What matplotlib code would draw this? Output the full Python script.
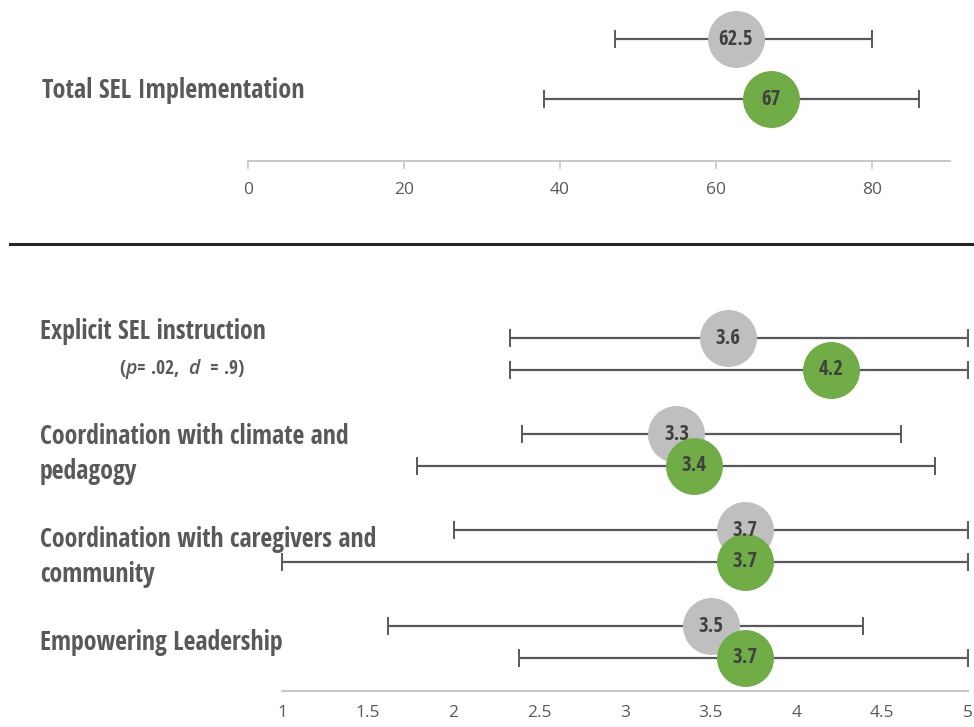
import matplotlib
matplotlib.use("Agg")
import matplotlib.pyplot as plt

# ---- data ----
total_label = "Total SEL Implementation"
total_means = [62.5, 67]          # comparison (gray), intervention (green)
total_low = [47, 38]
total_high = [80, 86]
total_ticks = [0, 20, 40, 60, 80]

domains = [
    "Explicit SEL instruction",
    "Coordination with climate and\npedagogy",
    "Coordination with caregivers and\ncommunity",
    "Empowering Leadership",
]
gray_means = [3.6, 3.3, 3.7, 3.5]
gray_low = [2.33, 2.40, 2.0, 1.62]
gray_high = [5.0, 4.61, 5.0, 4.39]
green_means = [4.2, 3.4, 3.7, 3.7]
green_low = [2.33, 1.79, 1.0, 2.38]
green_high = [5.0, 4.81, 5.0, 5.0]
domain_ticks = [1, 1.5, 2, 2.5, 3, 3.5, 4, 4.5, 5]
domain_tick_labels = ["1", "1.5", "2", "2.5", "3", "3.5", "4", "4.5", "5"]

GRAY = "#BFBFBF"
GREEN = "#70AD47"
BAR = "#595959"
LABEL = "#595959"
VALUE = "#404040"
COND = "Open Sans Condensed"
TICKFONT = "Open Sans"

plt.rcParams["mathtext.fontset"] = "custom"
plt.rcParams["mathtext.it"] = "Open Sans:italic:semibold"
plt.rcParams["mathtext.rm"] = "Open Sans Condensed:bold"

W, H = 974, 727
fig = plt.figure(figsize=(W / 100, H / 100), dpi=100)


def px_axes(x0, y0, x1, y1):
    return fig.add_axes([x0 / W, 1 - y1 / H, (x1 - x0) / W, (y1 - y0) / H])


def style_axis(ax, ticks, labels, tick_len, pad):
    for s in ("top", "left", "right"):
        ax.spines[s].set_visible(False)
    ax.spines["bottom"].set_color("#C8C8C8")
    ax.spines["bottom"].set_linewidth(1.5)
    ax.set_yticks([])
    ax.set_xticks(ticks)
    ax.set_xticklabels(labels, fontsize=12.5, color="#595959", family=TICKFONT)
    ax.tick_params(axis="x", length=tick_len, width=1.2, color="#C8C8C8", pad=pad)
    ax.patch.set_alpha(0)


def draw_pair(ax, y, mean, lo, hi, color):
    ax.errorbar([mean], [y], xerr=[[mean - lo], [hi - mean]], fmt="none",
                ecolor=BAR, elinewidth=1.6, capsize=6.5, capthick=1.4,
                zorder=2, clip_on=False)
    ax.plot([mean], [y], "o", ms=41, color=color, mec="none", zorder=3,
            clip_on=False)
    ax.text(mean, y, f"{mean:g}", ha="center", va="center", fontsize=15,
            fontweight="bold", color=VALUE, family=COND, zorder=4)


# ---- top panel: total score ----
ax1 = px_axes(248, 0, 950, 161)
ax1.set_xlim(0, 90)
ax1.set_ylim(-1.03, 1.65)
style_axis(ax1, total_ticks, [str(t) for t in total_ticks], 6, 9)
draw_pair(ax1, 1, total_means[0], total_low[0], total_high[0], GRAY)
draw_pair(ax1, 0, total_means[1], total_low[1], total_high[1], GREEN)
fig.text(42 / W, 1 - 90 / H, total_label, fontsize=18.8, fontweight="bold",
         color=LABEL, family=COND, va="center", ha="left")

# separator rule
fig.add_artist(plt.Line2D([10 / W, 1.0], [1 - 244 / H, 1 - 244 / H],
                          color="#262626", lw=2.2))

# ---- bottom panel: domains ----
ax2 = px_axes(282, 290, 968, 691)
ax2.set_xlim(1, 5)
spacing = 96.0
ax2.set_ylim((691 - 354) / spacing, (290 - 354) / spacing)
style_axis(ax2, domain_ticks, domain_tick_labels, 0, 10)
off = 0.165
for i in range(len(domains)):
    draw_pair(ax2, i - off, gray_means[i], gray_low[i], gray_high[i], GRAY)
    draw_pair(ax2, i + off, green_means[i], green_low[i], green_high[i], GREEN)

label_y = [332, 454, 557, 643]
for name, y in zip(domains, label_y):
    fig.text(40 / W, 1 - y / H, name, fontsize=18.6, fontweight="bold",
             color=LABEL, family=COND, va="center", ha="left",
             linespacing=1.4)
fig.text(119 / W, 1 - 369 / H,
         r"($\mathit{p}$= .02,  $\mathit{d}$  = .9)", fontsize=14,
         fontweight="bold", color=LABEL, family=COND, va="center", ha="left")

fig.savefig("out.png", dpi=100)
